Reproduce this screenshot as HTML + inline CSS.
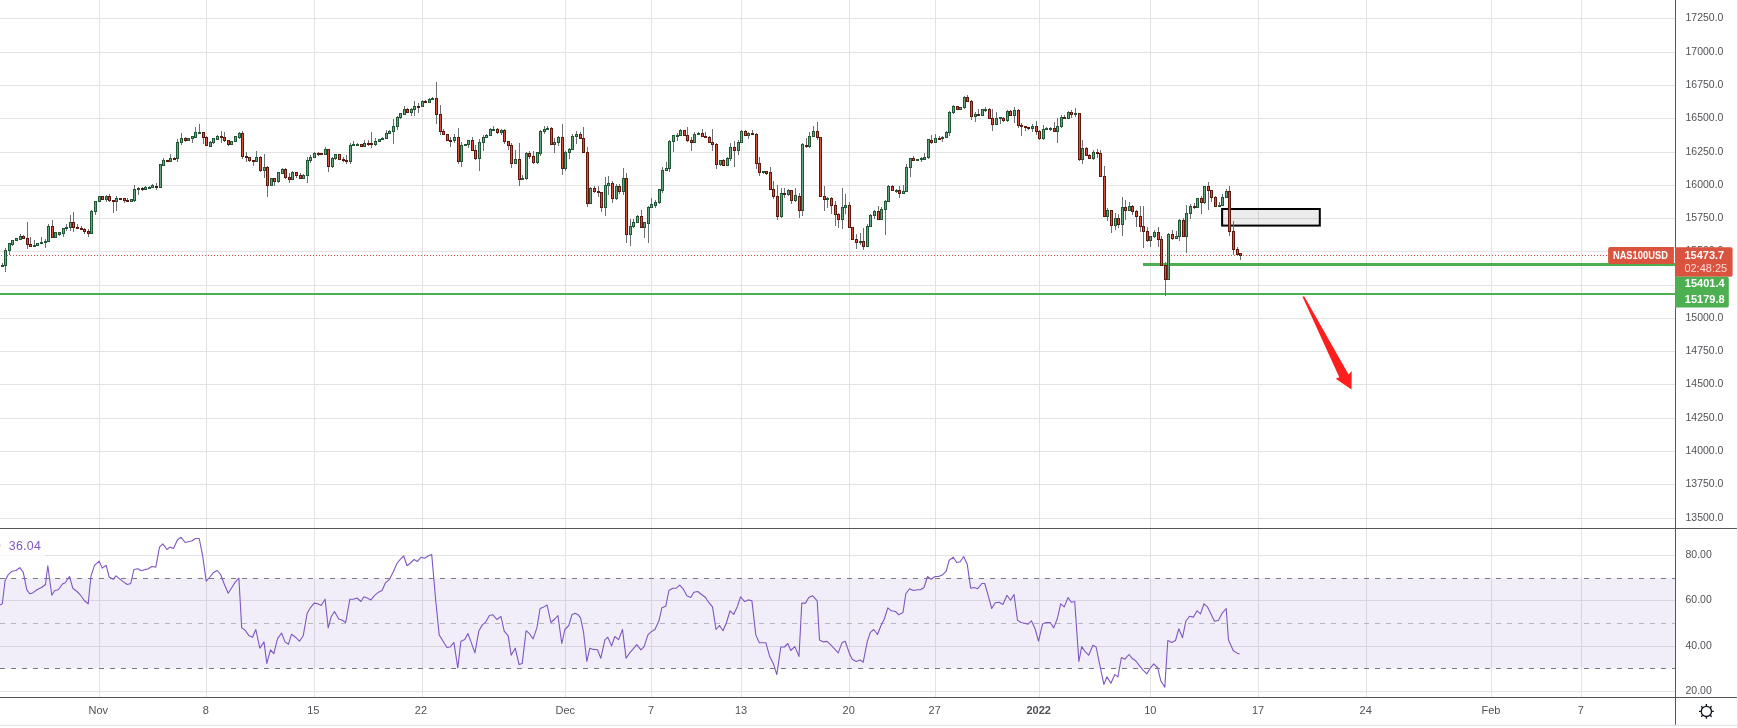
<!DOCTYPE html>
<html><head><meta charset="utf-8"><title>NAS100USD chart</title>
<style>html,body{margin:0;padding:0;background:#fff;}body{width:1738px;height:728px;overflow:hidden;}svg{display:block;will-change:transform;}</style>
</head><body>
<svg width="1738" height="728" viewBox="0 0 1738 728" font-family="Liberation Sans, Arial, sans-serif">
<rect x="0" y="0" width="1738" height="728" fill="#ffffff"/>
<path d="M99.5 0V528M99.5 529V697M206.5 0V528M206.5 529V697M314.5 0V528M314.5 529V697M422.5 0V528M422.5 529V697M565.5 0V528M565.5 529V697M651.5 0V528M651.5 529V697M741.5 0V528M741.5 529V697M849.5 0V528M849.5 529V697M935.5 0V528M935.5 529V697M1039.5 0V528M1039.5 529V697M1150.5 0V528M1150.5 529V697M1258.5 0V528M1258.5 529V697M1366.5 0V528M1366.5 529V697M1491.5 0V528M1491.5 529V697M1581.5 0V528M1581.5 529V697M0 18.5H1675.5M0 52.5H1675.5M0 85.5H1675.5M0 118.5H1675.5M0 152.5H1675.5M0 185.5H1675.5M0 218.5H1675.5M0 251.5H1675.5M0 285.5H1675.5M0 318.5H1675.5M0 351.5H1675.5M0 384.5H1675.5M0 418.5H1675.5M0 451.5H1675.5M0 484.5H1675.5M0 518.5H1675.5M0 555.5H1675.5M0 600.5H1675.5M0 646.5H1675.5M0 691.5H1675.5" stroke="#e3e3e3" stroke-width="1" fill="none"/>
<rect x="0" y="578.13" width="1675.5" height="90.52" fill="#7e57c2" fill-opacity="0.1"/>
<path d="M0 578.5H1675.5M0 668.5H1675.5" stroke="#787b86" stroke-width="1" stroke-dasharray="5 6" fill="none"/>
<path d="M0 623.5H1675.5" stroke="#b5b7be" stroke-width="1" stroke-dasharray="5 6" fill="none"/>
<polyline points="0,605 2.3,603.8 5.1,580.5 8.2,574.7 12.1,571.2 15.9,570.5 19.8,567.7 23.3,572.3 26.8,589.8 29.9,593.8 32.7,592.9 36.9,589.8 41.5,587.5 45.5,584.5 47.8,565.8 51.8,595.2 54.8,590.5 58.3,589.8 62.5,584 65.3,582.8 69.5,576.5 72.8,588.2 77,591.5 80.5,595.2 84.5,600.8 88.2,603.8 91,575.8 94.5,565.3 99.2,561.1 102.2,568.1 106.2,565.3 109.2,577 113.2,579.3 116,575.8 120.2,579.3 123.7,582.1 127.3,584.5 130.8,583.5 133.9,569.5 137.8,568.8 141.3,570.7 145.5,569.5 148.3,568.8 151.8,566.5 155.8,567.2 159.5,547.1 162.8,543.9 167,549.5 169.8,547.1 173.5,548.5 177.5,539.7 181,537.3 185.2,542.5 189.2,541.5 192.2,540.8 195.5,538.5 199.2,538.5 202.5,554.8 206.2,581.2 209.5,577.5 213.2,572.8 217.2,570.5 220.7,574.7 224.2,584 228.2,593.3 231.9,587.5 235.2,582.1 238.9,578.2 241.7,627.9 245.2,630.2 248.7,635.4 252.5,637.2 255.8,629.5 259.8,648.2 264,641.9 266.8,663.4 270.5,649.8 273.8,653.6 277.5,638.9 281.5,633 285,641.9 288.5,644.2 291.5,634.2 295.5,637.2 299.5,641.2 303.2,635.8 307.2,613.2 310.7,607.3 314.2,603.1 317.7,603.8 321.2,605.5 325.1,599.2 328.2,627.9 331.2,616.7 334.5,611.5 338.7,619 342.2,620.2 345.7,622.5 349.9,599.2 353.2,599.2 356.9,598 360.9,601.5 363.9,596.8 367.2,598 370.9,599.9 374.9,595.2 378.5,592.2 382,590.5 385.5,582.8 389.5,579.3 393.2,571.9 397.2,563 400.7,558.8 403.7,556 407,565.8 410.5,563 414,559.5 417.5,561.4 421.2,557.2 424.5,558.3 428.2,556 431.7,554.4 435.7,600.3 439.2,634.9 443.1,641.2 446.9,647.5 450.1,647 453.9,642.4 457.8,668 460.9,641.2 464.8,639.6 467.9,633.5 471.2,642.4 474.9,652.9 478.9,630.7 482.4,624.9 485.9,621.8 489.4,615.5 492.9,614.8 496.8,619.5 501,616.5 504.2,631.2 508.2,635.8 511.2,655.2 515.2,648.2 519.1,664.5 522.2,663.4 526.1,630.7 529.9,634.2 533.1,638.9 536.9,627.9 540.1,608.5 543.9,606.9 547.1,605 550.9,622.5 554.8,619 557.9,615.5 561.8,643.5 564.9,629.5 568.8,625.5 571.9,614.8 575.1,613.2 578.2,614.8 580.5,617.8 583.5,631.9 586.8,661.5 589.8,648.2 593.3,649.4 597.5,649.8 600.8,658.2 605,639.6 607.8,637.2 611.6,645.9 614.8,636.5 618.6,639.6 622.5,629.5 626.1,658.2 629.7,652.9 633.2,648.9 636.7,644.7 640.9,649.8 644.1,646.6 647.9,634.9 651.1,631.9 654.9,629.5 658.8,621.3 661.9,607.8 665.8,606.2 668.9,590.5 672.8,588.2 676.3,588.2 679.8,585.2 683.3,589.1 686.8,595.7 690.8,597.5 693.8,592.2 697.8,591.5 701.5,594.5 705.5,597.5 708.5,602.2 712.5,606.9 716,629.5 719.5,625.5 723,630.7 726.5,622.5 730,610.8 733.8,614.3 737.5,606.2 740.5,596.8 744.5,601.5 748.2,599.9 751.9,600.8 755.8,634.9 759.3,642.8 762.8,642.8 765.9,642.8 769.8,656.8 773.3,663.4 776.8,674.6 780.8,647 784.5,647 787.8,643.5 790.8,650.5 794.8,646.6 799,656.4 801.8,603.1 805.5,603.1 808.8,597.5 812.5,595.7 817.2,600.8 819.5,640 823.5,641.9 827,641.4 830.5,644.7 834.5,648.9 838.2,652.9 842.2,642.4 845.2,641.2 849.2,652.9 852.2,659.2 856.2,661.5 860.2,659.9 863.2,662.2 867.2,641.9 870.2,632.6 873.7,629.5 877.5,634.5 880.8,626 884.3,619 887.8,607.8 891.3,610.8 895.5,611.5 898.8,614.8 903,612.5 905.8,593.8 909.5,588.7 913.5,590.5 917.5,589.8 920.5,589.8 924,587.5 927.5,576.5 931,579.3 935.2,576.5 938.5,576.5 942.2,575.1 946.2,571.2 949.2,560.2 953.2,557.2 956.7,562.5 960.2,561.8 963.7,556.5 967.2,564.2 970.7,588.2 974.2,587.5 977.7,588.7 981.9,583.5 984.7,583.5 988.2,595.7 991.7,608.5 995.2,602.7 999.2,602.2 1002.9,604.5 1007,595.2 1010.5,600.3 1014,594.5 1017.5,620.2 1021,622.5 1024.5,623.2 1028,624.1 1031.5,620.9 1035,628.4 1038.5,641.2 1042.5,624.1 1046.2,622.5 1050.2,622.5 1053.7,627.9 1057.2,619 1060.7,603.8 1064.2,606.9 1068.1,597.5 1071.2,602.2 1074.7,601.5 1078.9,661.5 1081.7,646.6 1085.2,651.7 1088.7,655.2 1092.9,645.2 1096.1,647 1099.9,665.7 1103.9,684.4 1106.9,676.9 1110.9,683.2 1114.8,674.6 1117.9,676.9 1121.4,657.5 1125,659.2 1128.9,654.5 1132.1,658.2 1135.9,661 1139.8,666.2 1143.3,670.4 1146.8,673.9 1150.3,668 1153.8,663.8 1157.8,668 1160.8,680.9 1164.8,687.2 1167.8,640.5 1171.8,642.4 1175.5,640.5 1178.8,628.8 1182.5,637.7 1185.8,621.3 1189.5,616.2 1193.5,617.1 1197,610.8 1200.5,613.9 1204,603.8 1207.5,606.9 1211,613.9 1214.5,621.3 1218.5,620.2 1222.2,613.2 1226.2,608.5 1228.5,640 1233.2,650.5 1236.7,652.9 1239.5,654" fill="none" stroke="#7e57c2" stroke-width="1.1" stroke-linejoin="round"/>
<path d="M0 255.5H1608" stroke="#d9503f" stroke-width="1" stroke-dasharray="1 2" stroke-dashoffset="-1" fill="none"/>
<rect x="1222.1" y="209" width="97.7" height="16.6" fill="#000" fill-opacity="0.075" stroke="#000" stroke-width="2"/>
<path d="M1143 264.5H1675.5" stroke="#4caf50" stroke-width="3" fill="none"/>
<path d="M0 294H1675.5" stroke="#4caf50" stroke-width="2" fill="none"/>
<path d="M2.5 263V267M5.5 248V272M9.5 243V255M12.5 240V246M16.5 238V241M20.5 234V240M23.5 235V239M27.5 222V249M30.5 237V247M34.5 240V247M37.5 243V246M41.5 237V244M45.5 239V248M48.5 224V242M52.5 220V238M55.5 232V238M59.5 232V236M63.5 228V237M66.5 224V231M70.5 215V231M73.5 212V232M77.5 224V229M81.5 226V230M84.5 228V234M88.5 229V237M91.5 210V234M95.5 201V215M99.5 196V202M102.5 196V200M106.5 195V202M109.5 194V202M113.5 200V213M116.5 196V211M120.5 198V200M124.5 198V203M127.5 198V202M131.5 199V202M134.5 185V202M138.5 187V195M142.5 187V191M145.5 186V190M149.5 186V189M152.5 184V188M156.5 183V190M160.5 164V188M163.5 158V166M167.5 160V162M170.5 154V162M174.5 157V159M177.5 139V162M181.5 133V145M185.5 137V142M188.5 138V141M192.5 136V143M195.5 127V138M199.5 124V134M203.5 132V144M206.5 136V146M210.5 141V146M213.5 138V144M217.5 135V140M221.5 131V143M224.5 132V142M228.5 140V146M231.5 141V145M235.5 136V142M239.5 132V139M242.5 131V159M246.5 152V162M249.5 157V162M253.5 160V166M256.5 151V162M260.5 156V172M264.5 154V178M267.5 166V197M271.5 178V186M274.5 178V186M278.5 172V183M282.5 168V174M285.5 168V179M289.5 173V183M292.5 171V180M296.5 172V178M300.5 173V179M303.5 174V179M307.5 157V183M310.5 155V163M314.5 152V158M318.5 152V156M321.5 153V155M325.5 147V155M328.5 149V172M332.5 157V168M335.5 154V160M339.5 154V160M343.5 157V162M346.5 155V164M350.5 143V164M353.5 141V146M357.5 143V146M361.5 144V147M364.5 140V147M368.5 140V146M371.5 132V148M375.5 138V146M379.5 139V142M382.5 137V140M386.5 130V139M389.5 130V134M393.5 119V144M397.5 116V130M400.5 113V119M404.5 106V115M407.5 108V113M411.5 108V116M414.5 101V116M418.5 103V113M422.5 100V107M425.5 100V103M429.5 98V103M432.5 97V100M436.5 82V124M440.5 105V135M443.5 129V135M447.5 134V141M450.5 137V147M454.5 134V143M458.5 128V164M461.5 142V167M465.5 144V146M468.5 140V148M472.5 137V151M475.5 145V160M479.5 139V171M483.5 135V151M486.5 134V138M490.5 128V136M493.5 126V130M497.5 128V134M501.5 129V135M504.5 129V144M508.5 141V150M511.5 143V168M515.5 150V164M519.5 143V186M522.5 175V180M526.5 152V180M529.5 151V159M533.5 151V164M537.5 152V164M540.5 130V156M544.5 126V134M547.5 126V130M551.5 127V145M554.5 138V153M558.5 136V146M562.5 124V175M565.5 151V171M569.5 148V159M572.5 134V150M576.5 131V144M580.5 132V139M583.5 127V153M587.5 147V207M590.5 187V204M594.5 186V193M598.5 186V197M601.5 192V212M605.5 177V216M608.5 176V195M612.5 181V203M616.5 184V200M619.5 184V194M623.5 168V195M626.5 173V243M630.5 219V246M633.5 219V228M637.5 215V223M641.5 210V228M644.5 222V238M648.5 206V243M651.5 198V208M655.5 200V208M659.5 189V204M662.5 167V193M666.5 162V171M669.5 140V172M673.5 135V152M677.5 133V141M680.5 129V136M684.5 130V136M687.5 127V142M691.5 137V151M694.5 132V143M698.5 132V135M702.5 129V137M705.5 132V138M709.5 136V143M712.5 129V151M716.5 143V169M720.5 160V166M723.5 159V166M727.5 157V166M730.5 143V161M734.5 141V167M738.5 140V155M741.5 130V143M745.5 130V136M748.5 132V139M752.5 130V135M756.5 133V169M759.5 157V176M763.5 171V174M766.5 171V175M770.5 167V190M773.5 181V199M777.5 185V220M781.5 188V218M784.5 188V198M788.5 189V196M791.5 190V204M795.5 188V202M799.5 193V218M802.5 143V216M806.5 138V148M809.5 132V148M813.5 126V137M817.5 122V140M820.5 137V197M824.5 186V211M827.5 197V208M831.5 197V214M835.5 201V226M838.5 213V228M842.5 188V229M845.5 194V214M849.5 202V228M852.5 227V240M856.5 234V249M860.5 233V245M863.5 228V250M867.5 224V247M870.5 214V227M874.5 210V219M878.5 206V220M881.5 207V220M885.5 200V235M888.5 185V202M892.5 185V191M896.5 189V193M899.5 186V198M903.5 185V194M906.5 164V192M910.5 158V177M913.5 156V161M917.5 159V161M921.5 157V162M924.5 153V160M928.5 139V159M931.5 135V144M935.5 134V143M939.5 136V140M942.5 136V142M946.5 131V138M949.5 111V136M953.5 105V114M957.5 106V110M960.5 107V110M964.5 96V109M967.5 95V102M971.5 100V120M975.5 112V122M978.5 109V116M982.5 109V116M985.5 107V112M989.5 108V119M992.5 109V131M996.5 112V125M1000.5 117V124M1003.5 117V122M1007.5 110V122M1010.5 110V116M1014.5 107V123M1018.5 109V128M1021.5 123V136M1025.5 126V131M1028.5 127V130M1032.5 124V132M1036.5 121V135M1039.5 130V140M1043.5 125V140M1046.5 127V130M1050.5 127V131M1054.5 122V132M1057.5 118V143M1061.5 115V128M1064.5 115V119M1068.5 111V119M1071.5 110V118M1075.5 108V117M1079.5 113V161M1082.5 140V164M1086.5 147V156M1089.5 154V159M1093.5 150V160M1097.5 149V158M1100.5 150V177M1104.5 166V217M1107.5 208V221M1111.5 210V233M1115.5 213V230M1118.5 214V228M1122.5 197V236M1125.5 200V220M1129.5 202V211M1132.5 205V215M1136.5 210V227M1140.5 206V232M1143.5 206V248M1147.5 227V242M1150.5 236V247M1154.5 230V238M1158.5 227V247M1161.5 236V266M1165.5 262V296M1168.5 233V280M1172.5 230V240M1176.5 231V239M1179.5 219V241M1183.5 218V237M1186.5 205V253M1190.5 204V219M1194.5 203V209M1197.5 198V208M1201.5 196V214M1204.5 186V204M1208.5 182V210M1211.5 190V202M1215.5 196V207M1219.5 202V207M1222.5 194V206M1226.5 189V198M1229.5 186V236M1233.5 221V255M1237.5 247V255M1240.5 253V260" stroke="#6e6f73" stroke-width="1" fill="none"/>
<g fill="#68a57f" stroke="#205736" stroke-width="1"><rect x="1.5" y="265.5" width="2" height="1"/><rect x="4.5" y="250.5" width="2" height="15"/><rect x="8.5" y="243.5" width="2" height="7"/><rect x="11.5" y="240.5" width="2" height="4"/><rect x="15.5" y="238.5" width="2" height="2"/><rect x="19.5" y="236.5" width="2" height="3"/><rect x="33.5" y="245.5" width="2" height="1"/><rect x="36.5" y="243.5" width="2" height="2"/><rect x="40.5" y="242.5" width="2" height="1"/><rect x="44.5" y="241.5" width="2" height="1"/><rect x="47.5" y="226.5" width="2" height="15"/><rect x="54.5" y="232.5" width="2" height="5"/><rect x="58.5" y="232.5" width="2" height="2"/><rect x="62.5" y="228.5" width="2" height="5"/><rect x="65.5" y="227.5" width="2" height="1"/><rect x="69.5" y="222.5" width="2" height="5"/><rect x="90.5" y="211.5" width="2" height="22"/><rect x="94.5" y="201.5" width="2" height="10"/><rect x="98.5" y="196.5" width="2" height="5"/><rect x="105.5" y="196.5" width="2" height="3"/><rect x="115.5" y="198.5" width="2" height="3"/><rect x="130.5" y="199.5" width="2" height="2"/><rect x="133.5" y="189.5" width="2" height="11"/><rect x="137.5" y="188.5" width="2" height="1"/><rect x="144.5" y="187.5" width="2" height="2"/><rect x="148.5" y="187.5" width="2" height="1"/><rect x="151.5" y="185.5" width="2" height="2"/><rect x="159.5" y="164.5" width="2" height="23"/><rect x="162.5" y="160.5" width="2" height="5"/><rect x="169.5" y="158.5" width="2" height="3"/><rect x="176.5" y="142.5" width="2" height="16"/><rect x="180.5" y="138.5" width="2" height="4"/><rect x="187.5" y="138.5" width="2" height="2"/><rect x="191.5" y="136.5" width="2" height="2"/><rect x="194.5" y="132.5" width="2" height="5"/><rect x="198.5" y="132.5" width="2" height="1"/><rect x="209.5" y="142.5" width="2" height="4"/><rect x="212.5" y="138.5" width="2" height="4"/><rect x="216.5" y="136.5" width="2" height="3"/><rect x="230.5" y="141.5" width="2" height="3"/><rect x="234.5" y="136.5" width="2" height="5"/><rect x="238.5" y="133.5" width="2" height="4"/><rect x="255.5" y="157.5" width="2" height="4"/><rect x="263.5" y="167.5" width="2" height="3"/><rect x="270.5" y="178.5" width="2" height="7"/><rect x="277.5" y="172.5" width="2" height="9"/><rect x="281.5" y="169.5" width="2" height="4"/><rect x="291.5" y="172.5" width="2" height="7"/><rect x="302.5" y="175.5" width="2" height="3"/><rect x="306.5" y="160.5" width="2" height="15"/><rect x="309.5" y="157.5" width="2" height="3"/><rect x="313.5" y="153.5" width="2" height="4"/><rect x="324.5" y="149.5" width="2" height="5"/><rect x="331.5" y="158.5" width="2" height="8"/><rect x="334.5" y="154.5" width="2" height="4"/><rect x="349.5" y="145.5" width="2" height="16"/><rect x="352.5" y="144.5" width="2" height="1"/><rect x="356.5" y="144.5" width="2" height="1"/><rect x="363.5" y="143.5" width="2" height="3"/><rect x="374.5" y="141.5" width="2" height="3"/><rect x="378.5" y="139.5" width="2" height="2"/><rect x="381.5" y="138.5" width="2" height="1"/><rect x="385.5" y="133.5" width="2" height="5"/><rect x="388.5" y="131.5" width="2" height="2"/><rect x="392.5" y="126.5" width="2" height="5"/><rect x="396.5" y="117.5" width="2" height="9"/><rect x="399.5" y="113.5" width="2" height="4"/><rect x="403.5" y="109.5" width="2" height="5"/><rect x="410.5" y="109.5" width="2" height="3"/><rect x="413.5" y="106.5" width="2" height="3"/><rect x="421.5" y="101.5" width="2" height="5"/><rect x="428.5" y="99.5" width="2" height="3"/><rect x="431.5" y="98.5" width="2" height="1"/><rect x="453.5" y="137.5" width="2" height="3"/><rect x="460.5" y="145.5" width="2" height="16"/><rect x="464.5" y="144.5" width="2" height="1"/><rect x="467.5" y="140.5" width="2" height="4"/><rect x="478.5" y="142.5" width="2" height="16"/><rect x="482.5" y="137.5" width="2" height="5"/><rect x="485.5" y="135.5" width="2" height="2"/><rect x="489.5" y="129.5" width="2" height="6"/><rect x="492.5" y="129.5" width="2" height="1"/><rect x="500.5" y="130.5" width="2" height="2"/><rect x="514.5" y="159.5" width="2" height="4"/><rect x="521.5" y="178.5" width="2" height="1"/><rect x="525.5" y="153.5" width="2" height="25"/><rect x="536.5" y="152.5" width="2" height="10"/><rect x="539.5" y="131.5" width="2" height="22"/><rect x="543.5" y="129.5" width="2" height="2"/><rect x="546.5" y="128.5" width="2" height="1"/><rect x="553.5" y="142.5" width="2" height="2"/><rect x="557.5" y="137.5" width="2" height="5"/><rect x="564.5" y="152.5" width="2" height="16"/><rect x="568.5" y="149.5" width="2" height="3"/><rect x="571.5" y="136.5" width="2" height="13"/><rect x="575.5" y="134.5" width="2" height="2"/><rect x="589.5" y="188.5" width="2" height="15"/><rect x="604.5" y="185.5" width="2" height="22"/><rect x="607.5" y="183.5" width="2" height="2"/><rect x="615.5" y="186.5" width="2" height="12"/><rect x="622.5" y="178.5" width="2" height="13"/><rect x="629.5" y="226.5" width="2" height="8"/><rect x="632.5" y="222.5" width="2" height="4"/><rect x="636.5" y="216.5" width="2" height="6"/><rect x="643.5" y="222.5" width="2" height="5"/><rect x="647.5" y="207.5" width="2" height="16"/><rect x="650.5" y="204.5" width="2" height="3"/><rect x="654.5" y="202.5" width="2" height="3"/><rect x="658.5" y="189.5" width="2" height="13"/><rect x="661.5" y="170.5" width="2" height="20"/><rect x="665.5" y="168.5" width="2" height="2"/><rect x="668.5" y="141.5" width="2" height="27"/><rect x="672.5" y="135.5" width="2" height="6"/><rect x="676.5" y="135.5" width="2" height="1"/><rect x="679.5" y="130.5" width="2" height="5"/><rect x="693.5" y="134.5" width="2" height="8"/><rect x="697.5" y="133.5" width="2" height="1"/><rect x="719.5" y="160.5" width="2" height="4"/><rect x="726.5" y="158.5" width="2" height="7"/><rect x="729.5" y="147.5" width="2" height="11"/><rect x="737.5" y="142.5" width="2" height="8"/><rect x="740.5" y="131.5" width="2" height="11"/><rect x="747.5" y="133.5" width="2" height="2"/><rect x="762.5" y="171.5" width="2" height="1"/><rect x="780.5" y="193.5" width="2" height="23"/><rect x="787.5" y="190.5" width="2" height="4"/><rect x="794.5" y="195.5" width="2" height="5"/><rect x="801.5" y="144.5" width="2" height="66"/><rect x="808.5" y="136.5" width="2" height="10"/><rect x="812.5" y="131.5" width="2" height="5"/><rect x="826.5" y="198.5" width="2" height="1"/><rect x="841.5" y="207.5" width="2" height="12"/><rect x="844.5" y="205.5" width="2" height="2"/><rect x="859.5" y="241.5" width="2" height="1"/><rect x="866.5" y="226.5" width="2" height="20"/><rect x="869.5" y="215.5" width="2" height="11"/><rect x="873.5" y="211.5" width="2" height="4"/><rect x="880.5" y="209.5" width="2" height="10"/><rect x="884.5" y="201.5" width="2" height="8"/><rect x="887.5" y="186.5" width="2" height="15"/><rect x="895.5" y="190.5" width="2" height="1"/><rect x="902.5" y="191.5" width="2" height="2"/><rect x="905.5" y="167.5" width="2" height="24"/><rect x="909.5" y="158.5" width="2" height="9"/><rect x="916.5" y="159.5" width="2" height="1"/><rect x="920.5" y="158.5" width="2" height="1"/><rect x="923.5" y="157.5" width="2" height="2"/><rect x="927.5" y="139.5" width="2" height="18"/><rect x="934.5" y="138.5" width="2" height="4"/><rect x="941.5" y="137.5" width="2" height="1"/><rect x="945.5" y="132.5" width="2" height="5"/><rect x="948.5" y="112.5" width="2" height="20"/><rect x="952.5" y="106.5" width="2" height="6"/><rect x="959.5" y="107.5" width="2" height="2"/><rect x="963.5" y="97.5" width="2" height="10"/><rect x="974.5" y="114.5" width="2" height="2"/><rect x="981.5" y="109.5" width="2" height="6"/><rect x="984.5" y="109.5" width="2" height="1"/><rect x="995.5" y="118.5" width="2" height="6"/><rect x="999.5" y="117.5" width="2" height="1"/><rect x="1006.5" y="111.5" width="2" height="9"/><rect x="1013.5" y="110.5" width="2" height="5"/><rect x="1031.5" y="126.5" width="2" height="2"/><rect x="1042.5" y="129.5" width="2" height="9"/><rect x="1045.5" y="128.5" width="2" height="1"/><rect x="1049.5" y="128.5" width="2" height="1"/><rect x="1056.5" y="126.5" width="2" height="5"/><rect x="1060.5" y="117.5" width="2" height="9"/><rect x="1067.5" y="112.5" width="2" height="6"/><rect x="1074.5" y="113.5" width="2" height="1"/><rect x="1081.5" y="148.5" width="2" height="11"/><rect x="1092.5" y="152.5" width="2" height="6"/><rect x="1106.5" y="210.5" width="2" height="6"/><rect x="1114.5" y="218.5" width="2" height="7"/><rect x="1121.5" y="207.5" width="2" height="17"/><rect x="1128.5" y="206.5" width="2" height="4"/><rect x="1149.5" y="236.5" width="2" height="4"/><rect x="1153.5" y="232.5" width="2" height="4"/><rect x="1167.5" y="234.5" width="2" height="45"/><rect x="1175.5" y="236.5" width="2" height="2"/><rect x="1178.5" y="220.5" width="2" height="16"/><rect x="1185.5" y="213.5" width="2" height="23"/><rect x="1189.5" y="206.5" width="2" height="7"/><rect x="1196.5" y="198.5" width="2" height="9"/><rect x="1203.5" y="186.5" width="2" height="16"/><rect x="1218.5" y="205.5" width="2" height="1"/><rect x="1221.5" y="197.5" width="2" height="8"/><rect x="1225.5" y="191.5" width="2" height="6"/></g>
<g fill="#d9503f" stroke="#60170d" stroke-width="1"><rect x="22.5" y="236.5" width="2" height="2"/><rect x="26.5" y="238.5" width="2" height="6"/><rect x="29.5" y="244.5" width="2" height="2"/><rect x="51.5" y="226.5" width="2" height="11"/><rect x="72.5" y="222.5" width="2" height="5"/><rect x="76.5" y="227.5" width="2" height="1"/><rect x="80.5" y="228.5" width="2" height="1"/><rect x="83.5" y="229.5" width="2" height="2"/><rect x="87.5" y="231.5" width="2" height="2"/><rect x="101.5" y="196.5" width="2" height="3"/><rect x="108.5" y="196.5" width="2" height="4"/><rect x="112.5" y="200.5" width="2" height="1"/><rect x="119.5" y="198.5" width="2" height="1"/><rect x="123.5" y="198.5" width="2" height="2"/><rect x="126.5" y="200.5" width="2" height="1"/><rect x="141.5" y="188.5" width="2" height="1"/><rect x="155.5" y="186.5" width="2" height="1"/><rect x="166.5" y="160.5" width="2" height="1"/><rect x="173.5" y="158.5" width="2" height="1"/><rect x="184.5" y="138.5" width="2" height="2"/><rect x="202.5" y="132.5" width="2" height="5"/><rect x="205.5" y="137.5" width="2" height="8"/><rect x="220.5" y="136.5" width="2" height="1"/><rect x="223.5" y="137.5" width="2" height="3"/><rect x="227.5" y="140.5" width="2" height="4"/><rect x="241.5" y="133.5" width="2" height="23"/><rect x="245.5" y="156.5" width="2" height="1"/><rect x="248.5" y="157.5" width="2" height="3"/><rect x="252.5" y="160.5" width="2" height="1"/><rect x="259.5" y="157.5" width="2" height="13"/><rect x="266.5" y="167.5" width="2" height="18"/><rect x="273.5" y="178.5" width="2" height="3"/><rect x="284.5" y="169.5" width="2" height="8"/><rect x="288.5" y="177.5" width="2" height="2"/><rect x="295.5" y="172.5" width="2" height="3"/><rect x="299.5" y="175.5" width="2" height="3"/><rect x="317.5" y="153.5" width="2" height="1"/><rect x="320.5" y="153.5" width="2" height="1"/><rect x="327.5" y="149.5" width="2" height="17"/><rect x="338.5" y="154.5" width="2" height="5"/><rect x="342.5" y="159.5" width="2" height="1"/><rect x="345.5" y="160.5" width="2" height="1"/><rect x="360.5" y="144.5" width="2" height="2"/><rect x="367.5" y="143.5" width="2" height="1"/><rect x="370.5" y="143.5" width="2" height="1"/><rect x="406.5" y="109.5" width="2" height="3"/><rect x="417.5" y="106.5" width="2" height="1"/><rect x="424.5" y="101.5" width="2" height="1"/><rect x="435.5" y="98.5" width="2" height="16"/><rect x="439.5" y="114.5" width="2" height="17"/><rect x="442.5" y="131.5" width="2" height="3"/><rect x="446.5" y="134.5" width="2" height="6"/><rect x="449.5" y="140.5" width="2" height="1"/><rect x="457.5" y="137.5" width="2" height="24"/><rect x="471.5" y="140.5" width="2" height="10"/><rect x="474.5" y="150.5" width="2" height="8"/><rect x="496.5" y="129.5" width="2" height="3"/><rect x="503.5" y="130.5" width="2" height="11"/><rect x="507.5" y="141.5" width="2" height="4"/><rect x="510.5" y="145.5" width="2" height="18"/><rect x="518.5" y="159.5" width="2" height="20"/><rect x="528.5" y="153.5" width="2" height="3"/><rect x="532.5" y="156.5" width="2" height="6"/><rect x="550.5" y="128.5" width="2" height="16"/><rect x="561.5" y="137.5" width="2" height="31"/><rect x="579.5" y="134.5" width="2" height="4"/><rect x="582.5" y="138.5" width="2" height="14"/><rect x="586.5" y="152.5" width="2" height="51"/><rect x="593.5" y="188.5" width="2" height="3"/><rect x="597.5" y="191.5" width="2" height="1"/><rect x="600.5" y="192.5" width="2" height="15"/><rect x="611.5" y="183.5" width="2" height="15"/><rect x="618.5" y="186.5" width="2" height="5"/><rect x="625.5" y="178.5" width="2" height="56"/><rect x="640.5" y="216.5" width="2" height="11"/><rect x="683.5" y="130.5" width="2" height="5"/><rect x="686.5" y="135.5" width="2" height="5"/><rect x="690.5" y="140.5" width="2" height="2"/><rect x="701.5" y="133.5" width="2" height="3"/><rect x="704.5" y="136.5" width="2" height="1"/><rect x="708.5" y="137.5" width="2" height="5"/><rect x="711.5" y="142.5" width="2" height="2"/><rect x="715.5" y="144.5" width="2" height="20"/><rect x="722.5" y="160.5" width="2" height="5"/><rect x="733.5" y="147.5" width="2" height="3"/><rect x="744.5" y="131.5" width="2" height="4"/><rect x="751.5" y="133.5" width="2" height="1"/><rect x="755.5" y="134.5" width="2" height="29"/><rect x="758.5" y="163.5" width="2" height="9"/><rect x="765.5" y="171.5" width="2" height="2"/><rect x="769.5" y="172.5" width="2" height="17"/><rect x="772.5" y="189.5" width="2" height="7"/><rect x="776.5" y="196.5" width="2" height="20"/><rect x="783.5" y="193.5" width="2" height="1"/><rect x="790.5" y="190.5" width="2" height="10"/><rect x="798.5" y="196.5" width="2" height="14"/><rect x="805.5" y="145.5" width="2" height="1"/><rect x="816.5" y="131.5" width="2" height="6"/><rect x="819.5" y="137.5" width="2" height="59"/><rect x="823.5" y="196.5" width="2" height="3"/><rect x="830.5" y="198.5" width="2" height="7"/><rect x="834.5" y="205.5" width="2" height="9"/><rect x="837.5" y="214.5" width="2" height="5"/><rect x="848.5" y="205.5" width="2" height="22"/><rect x="851.5" y="227.5" width="2" height="12"/><rect x="855.5" y="239.5" width="2" height="3"/><rect x="862.5" y="241.5" width="2" height="5"/><rect x="877.5" y="211.5" width="2" height="8"/><rect x="891.5" y="186.5" width="2" height="4"/><rect x="898.5" y="190.5" width="2" height="3"/><rect x="912.5" y="158.5" width="2" height="2"/><rect x="930.5" y="140.5" width="2" height="2"/><rect x="938.5" y="138.5" width="2" height="1"/><rect x="956.5" y="106.5" width="2" height="3"/><rect x="966.5" y="97.5" width="2" height="4"/><rect x="970.5" y="101.5" width="2" height="15"/><rect x="977.5" y="114.5" width="2" height="1"/><rect x="988.5" y="109.5" width="2" height="9"/><rect x="991.5" y="118.5" width="2" height="6"/><rect x="1002.5" y="118.5" width="2" height="2"/><rect x="1009.5" y="111.5" width="2" height="4"/><rect x="1017.5" y="110.5" width="2" height="15"/><rect x="1020.5" y="125.5" width="2" height="1"/><rect x="1024.5" y="126.5" width="2" height="1"/><rect x="1027.5" y="127.5" width="2" height="1"/><rect x="1035.5" y="126.5" width="2" height="5"/><rect x="1038.5" y="131.5" width="2" height="7"/><rect x="1053.5" y="128.5" width="2" height="3"/><rect x="1063.5" y="117.5" width="2" height="1"/><rect x="1070.5" y="112.5" width="2" height="2"/><rect x="1078.5" y="113.5" width="2" height="46"/><rect x="1085.5" y="148.5" width="2" height="7"/><rect x="1088.5" y="155.5" width="2" height="3"/><rect x="1096.5" y="152.5" width="2" height="1"/><rect x="1099.5" y="153.5" width="2" height="23"/><rect x="1103.5" y="176.5" width="2" height="40"/><rect x="1110.5" y="210.5" width="2" height="15"/><rect x="1117.5" y="218.5" width="2" height="6"/><rect x="1124.5" y="207.5" width="2" height="3"/><rect x="1131.5" y="206.5" width="2" height="5"/><rect x="1135.5" y="211.5" width="2" height="5"/><rect x="1139.5" y="216.5" width="2" height="10"/><rect x="1142.5" y="226.5" width="2" height="5"/><rect x="1146.5" y="231.5" width="2" height="9"/><rect x="1157.5" y="232.5" width="2" height="7"/><rect x="1160.5" y="239.5" width="2" height="26"/><rect x="1164.5" y="265.5" width="2" height="14"/><rect x="1171.5" y="234.5" width="2" height="4"/><rect x="1182.5" y="220.5" width="2" height="16"/><rect x="1193.5" y="206.5" width="2" height="1"/><rect x="1200.5" y="198.5" width="2" height="4"/><rect x="1207.5" y="186.5" width="2" height="4"/><rect x="1210.5" y="190.5" width="2" height="7"/><rect x="1214.5" y="197.5" width="2" height="9"/><rect x="1228.5" y="191.5" width="2" height="40"/><rect x="1232.5" y="231.5" width="2" height="18"/><rect x="1236.5" y="249.5" width="2" height="5"/><rect x="1239.5" y="253.5" width="2" height="2"/></g>
<polygon points="1302.4,296.6 1304.3,296.6 1348.6,374.5 1351.7,370.9 1351.5,389.6 1335.7,378.8 1339.3,377.3" fill="#fe1e1e"/>
<path d="M0 528.5H1737M0 697.5H1737" stroke="#555659" stroke-width="1" fill="none"/>
<path d="M1675.5 0V725" stroke="#555659" stroke-width="1" fill="none"/>
<path d="M1737.5 0V728M0 725.3H1737" stroke="#e0e3eb" stroke-width="1.2" fill="none"/>
<g font-size="10.5" fill="#505257"><text x="1685.5" y="21.0">17250.0</text><text x="1685.5" y="55.0">17000.0</text><text x="1685.5" y="88.0">16750.0</text><text x="1685.5" y="121.0">16500.0</text><text x="1685.5" y="155.0">16250.0</text><text x="1685.5" y="188.0">16000.0</text><text x="1685.5" y="221.0">15750.0</text><text x="1685.5" y="254.0">15500.0</text><text x="1685.5" y="288.0">15250.0</text><text x="1685.5" y="321.0">15000.0</text><text x="1685.5" y="354.0">14750.0</text><text x="1685.5" y="387.0">14500.0</text><text x="1685.5" y="421.0">14250.0</text><text x="1685.5" y="454.0">14000.0</text><text x="1685.5" y="487.0">13750.0</text><text x="1685.5" y="521.0">13500.0</text><text x="1685.5" y="558.3">80.00</text><text x="1685.5" y="603.3">60.00</text><text x="1685.5" y="649.3">40.00</text><text x="1685.5" y="694.3">20.00</text></g>
<g font-size="11" fill="#505257" text-anchor="middle"><text x="98.3" y="714">Nov</text><text x="205.7" y="714">8</text><text x="313.3" y="714">15</text><text x="420.9" y="714">22</text><text x="565.3" y="714">Dec</text><text x="651" y="714">7</text><text x="741" y="714">13</text><text x="848.7" y="714">20</text><text x="934.7" y="714">27</text><text x="1038.7" y="714" font-weight="bold">2022</text><text x="1150.3" y="714">10</text><text x="1258" y="714">17</text><text x="1365.7" y="714">24</text><text x="1491" y="714">Feb</text><text x="1580.7" y="714">7</text></g>
<circle cx="0" cy="545.6" r="1.4" fill="#9598a1"/>
<rect x="0" y="535" width="45" height="22" fill="#fff" fill-opacity="0.75"/>
<text x="8.7" y="549.8" font-size="12.4" letter-spacing="0.3" fill="#7e57c2">36.04</text>
<path d="M1610.1 247H1673.9V263.9H1610.1A2 2 0 0 1 1608.1 261.9V249A2 2 0 0 1 1610.1 247Z" fill="#d9533f"/>
<text x="1612.9" y="259.1" font-size="11" font-weight="bold" fill="#fff" textLength="55" lengthAdjust="spacingAndGlyphs">NAS100USD</text>
<path d="M1675 247.3H1730.6A2 2 0 0 1 1732.6 249.3V274.7A2 2 0 0 1 1730.6 276.7H1675Z" fill="#d9533f"/>
<path d="M1675 276.7H1726.8A2 2 0 0 1 1728.8 278.7V305.5A2 2 0 0 1 1726.8 307.5H1675Z" fill="#4caf50"/>
<g font-size="11" font-weight="bold" fill="#fff" text-anchor="middle"><text x="1704.3" y="259.2">15473.7</text></g>
<g font-size="11" font-weight="bold" fill="#fff"><text x="1684.8" y="287.0">15401.4</text><text x="1684.8" y="303.2">15179.8</text></g>
<text x="1705.8" y="271.6" font-size="11" fill="#f8dcd7" text-anchor="middle">02:48:25</text>
<circle cx="1706.4" cy="711.4" r="5.1" fill="none" stroke="#131722" stroke-width="1.3"/>
<path d="M1711.7 711.4L1713.8 711.4M1710.15 715.15L1711.63 716.63M1706.4 716.7L1706.4 718.8M1702.65 715.15L1701.17 716.63M1701.1 711.4L1699 711.4M1702.65 707.65L1701.17 706.17M1706.4 706.1L1706.4 704M1710.15 707.65L1711.63 706.17" stroke="#131722" stroke-width="1.4" fill="none"/>
</svg>
</body></html>
